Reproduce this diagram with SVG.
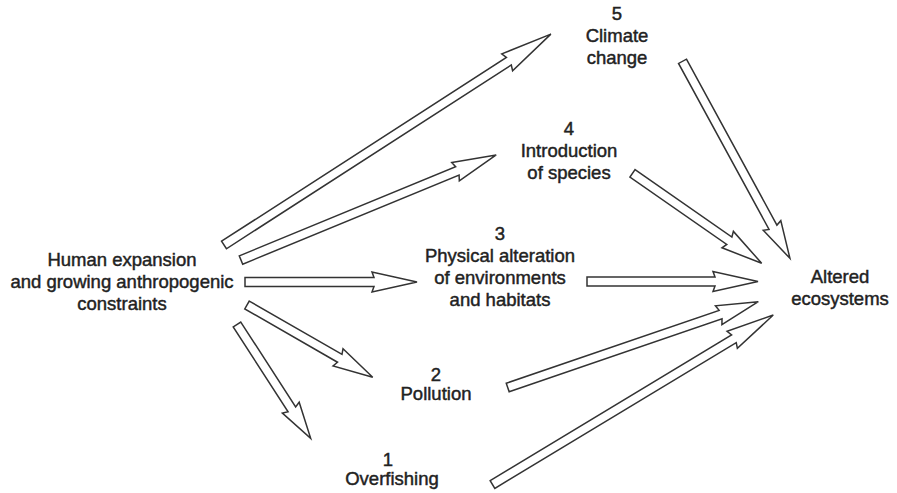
<svg xmlns="http://www.w3.org/2000/svg" width="897" height="493" viewBox="0 0 897 493">
  <style>
    .bg { fill: #ffffff; }
    .label { font-family: "Liberation Sans", Arial, Helvetica, sans-serif; font-size: 18.5px; fill: #222222; stroke: #222222; stroke-width: 0.45px; text-anchor: middle; }
    .arrow polygon { fill: #ffffff; stroke: #333333; stroke-width: 1.5; stroke-linejoin: miter; }
  </style>
  <rect class="bg" x="0" y="0" width="897" height="493"/>

  <!-- Block arrows: each drawn along +x from tail (0,0) to tip (L,0), then placed and rotated -->
  <g id="connectors" class="arrow">
    <!-- source to 5 -->
    <g transform="translate(224,245) rotate(-32.83)">
      <polygon points="0,-4.5 339,-4.5 337,-10 389,0 337,10 339,4.5 0,4.5"/>
    </g>
    <!-- source to 4 -->
    <g transform="translate(241,260) rotate(-22.38)">
      <polygon points="0,-4.5 234,-4.5 232,-10 276,0 232,10 234,4.5 0,4.5"/>
    </g>
    <!-- source to 3 -->
    <g transform="translate(245,282)">
      <polygon points="0,-4.5 129,-4.5 127,-10 172,0 127,10 129,4.5 0,4.5"/>
    </g>
    <!-- source to 2 -->
    <g transform="translate(247,305) rotate(29.9)">
      <polygon points="0,-4.5 107,-4.5 105,-10 145,0 105,10 107,4.5 0,4.5"/>
    </g>
    <!-- source to 1 -->
    <g transform="translate(237,324.5) rotate(57.1)">
      <polygon points="0,-4.5 101,-4.5 99,-10 135.6,0 99,10 101,4.5 0,4.5"/>
    </g>
    <!-- 5 to altered ecosystems -->
    <g transform="translate(682.5,61.3) rotate(61.4)">
      <polygon points="0,-4.5 189,-4.5 187,-10 224.4,0 187,10 189,4.5 0,4.5"/>
    </g>
    <!-- 4 to altered ecosystems -->
    <g transform="translate(632.5,173.3) rotate(34.86)">
      <polygon points="0,-4.5 118,-4.5 116,-10 157.4,0 116,10 118,4.5 0,4.5"/>
    </g>
    <!-- 3 to altered ecosystems -->
    <g transform="translate(587,281.5)">
      <polygon points="0,-4.5 128,-4.5 126,-10 171,0 126,10 128,4.5 0,4.5"/>
    </g>
    <!-- 2 to altered ecosystems -->
    <g transform="translate(507.7,387.5) rotate(-18.9)">
      <polygon points="0,-4.5 225,-4.5 223,-10 264.9,0 223,10 225,4.5 0,4.5"/>
    </g>
    <!-- 1 to altered ecosystems -->
    <g transform="translate(492.5,484.5) rotate(-31.12)">
      <polygon points="0,-4.5 282,-4.5 280,-10 328,0 280,10 282,4.5 0,4.5"/>
    </g>
  </g>

  <g id="node-source">
    <text class="label" x="122" y="266">Human expansion</text>
    <text class="label" x="122" y="288">and growing anthropogenic</text>
    <text class="label" x="122" y="310">constraints</text>
  </g>

  <g id="node-5">
    <text class="label" x="617" y="20">5</text>
    <text class="label" x="617" y="42">Climate</text>
    <text class="label" x="617" y="64">change</text>
  </g>

  <g id="node-4">
    <text class="label" x="569" y="135">4</text>
    <text class="label" x="569" y="157">Introduction</text>
    <text class="label" x="569" y="179">of species</text>
  </g>

  <g id="node-3">
    <text class="label" x="500" y="240">3</text>
    <text class="label" x="500" y="262">Physical alteration</text>
    <text class="label" x="500" y="284">of environments</text>
    <text class="label" x="500" y="306">and habitats</text>
  </g>

  <g id="node-2">
    <text class="label" x="436" y="381">2</text>
    <text class="label" x="436" y="400">Pollution</text>
  </g>

  <g id="node-1">
    <text class="label" x="388" y="466">1</text>
    <text class="label" x="392" y="485">Overfishing</text>
  </g>

  <g id="node-target">
    <text class="label" x="840" y="283">Altered</text>
    <text class="label" x="840" y="305">ecosystems</text>
  </g>
</svg>
